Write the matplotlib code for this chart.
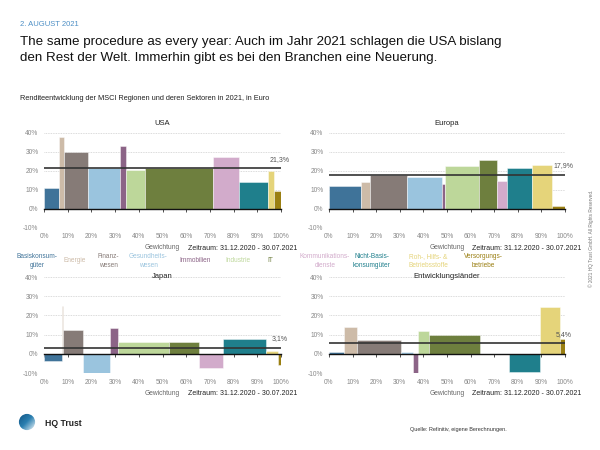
import numpy as np
import matplotlib
matplotlib.use("Agg")
import matplotlib.pyplot as plt
from matplotlib.patches import Circle

plt.rcParams['font.family'] = ['Liberation Sans', 'DejaVu Sans']

# sectors (legend order = bar order)
sectors = ['Basiskonsum-\ngüter', 'Energie', 'Finanz-\nwesen', 'Gesundheits-\nwesen', 'Immobilien',
           'Industrie', 'IT', 'Kommunikations-\ndienste', 'Nicht-Basis-\nkonsumgüter',
           'Roh-, Hilfs- &\nBetriebsstoffe', 'Versorgungs-\nbetriebe']
colors = ['#3f7399', '#cdbba8', '#867b77', '#9ac4de', '#8c6487', '#bdd79a',
          '#6e7f3e', '#d2abcb', '#1f7f8c', '#e5d47a', '#9a7f12']

regions = ['USA', 'Europa', 'Japan', 'Entwicklungsländer']

# index weight of each sector (%) and return 2021 (%)
weights_usa = [6.4, 2.0, 10.2, 13.6, 2.6, 7.9, 28.5, 11.1, 12.4, 2.3, 3.0]
returns_usa = [11.1, 37.5, 29.8, 21.5, 32.8, 20.3, 21.4, 27.1, 13.9, 20.1, 9.5]

weights_eu = [13.6, 3.8, 15.5, 14.8, 1.5, 14.4, 7.7, 4.1, 10.8, 8.4, 5.4]
returns_eu = [11.9, 14.2, 18.0, 16.7, 13.0, 22.5, 25.8, 14.7, 21.4, 23.0, 1.4]

weights_jp = [7.5, 0.7, 8.3, 11.4, 3.2, 21.7, 12.8, 9.8, 18.2, 5.3, 1.1]
returns_jp = [-3.5, 24.9, 12.5, -10.0, 13.2, 6.3, 6.1, -7.5, 7.8, 1.2, -5.9]

weights_em = [6.4, 5.3, 18.8, 5.0, 2.1, 4.8, 21.7, 12.2, 13.1, 8.3, 2.3]
returns_em = [0.7, 13.9, 7.3, 1.0, -10.3, 11.7, 9.6, -0.3, -9.7, 24.2, 7.5]

totals = [21.3, 17.9, 3.1, 5.4]

weights = [weights_usa, weights_eu, weights_jp, weights_em]
returns = [returns_usa, returns_eu, returns_jp, returns_em]

fig = plt.figure(figsize=(6, 4.5), dpi=100)
W, H = 600, 450

# axes boxes in pixels: left, right, top(40%), bottom(-10%)
boxes = [(44, 281, 132.7, 227.7), (329, 565, 132.7, 227.7),
         (44, 281, 277, 373), (329, 565, 277, 373)]
title_off = [9, 9, 0, 0]

for i in range(4):
    l, r, t, b = boxes[i]
    ax = fig.add_axes([l / W, 1 - b / H, (r - l) / W, (b - t) / H])
    w = np.array(weights[i])
    lefts = np.concatenate([[0], np.cumsum(w)[:-1]])
    ax.bar(lefts, returns[i], width=w, align='edge', color=colors,
           edgecolor=(1, 1, 1, 0.6), linewidth=0.5, zorder=2)
    ax.axhline(totals[i], color='#333333', lw=1.2, zorder=4)
    ax.annotate(f"{totals[i]:.1f}%".replace('.', ','), (99.5, totals[i]),
                xytext=(0, 6.5), textcoords='offset points', ha='center', va='center',
                fontsize=5, color='#555555', zorder=5)
    ax.set_xlim(0, 100)
    ax.set_ylim(-10, 40)
    ax.set_yticks(np.arange(-10, 41, 10))
    ax.set_yticklabels([f"{v}%" for v in range(-10, 41, 10)])
    ax.grid(axis='y', color='#cfcfcf', lw=0.6, ls=(0, (1, 1)), zorder=0)
    ax.set_axisbelow(True)
    for s in ['left', 'right', 'top']:
        ax.spines[s].set_visible(False)
    ax.spines['bottom'].set_position(('data', 0))
    ax.spines['bottom'].set_color('#111111')
    ax.spines['bottom'].set_linewidth(1.0)
    ax.spines['bottom'].set_zorder(3)
    ax.set_xticks(np.arange(0, 101, 10))
    ax.tick_params(axis='x', direction='out', length=2.2, width=0.6, color='#333333',
                   labelbottom=False)
    ax.tick_params(axis='y', length=0, pad=4, labelsize=4.8, labelcolor='#888888')
    sec = ax.secondary_xaxis('bottom')
    sec.set_xticks(np.arange(0, 101, 10))
    sec.set_xticklabels([f"{v}%" for v in range(0, 101, 10)])
    sec.tick_params(length=0, pad=4, labelsize=4.8, labelcolor='#888888')
    sec.spines['bottom'].set_visible(False)
    sec.set_xlabel('Gewichtung', fontsize=4.8, color='#666666', labelpad=3)
    fig.text((l + r) / 2 / W, 1 - (t - title_off[i]) / H, regions[i],
             ha='center', va='center', fontsize=5.5, color='#222222')
    fig.text((r + 16) / W, 1 - (b + 20.5) / H, 'Zeitraum: 31.12.2020 - 30.07.2021',
             ha='right', va='center', fontsize=5, color='#222222')

# legend row
legend_x = [37, 75, 108, 148, 195, 238, 270, 325, 372, 428, 483]
for name, c, x in zip(sectors, colors, legend_x):
    fig.text(x / W, 1 - 261 / H, name, ha='center', va='center', fontsize=4.7,
             color=c, linespacing=1.5, multialignment='center')

# header
fig.text(20 / W, 1 - 24 / H, '2. AUGUST 2021', fontsize=5.5, color='#4d8fc5', va='center')
fig.text(20 / W, 1 - 50 / H,
         'The same procedure as every year: Auch im Jahr 2021 schlagen die USA bislang\n'
         'den Rest der Welt. Immerhin gibt es bei den Branchen eine Neuerung.',
         fontsize=9.6, color='#111111', va='center', linespacing=1.45)
fig.text(20 / W, 1 - 98 / H,
         'Renditeentwicklung der MSCI Regionen und deren Sektoren in 2021, in Euro',
         fontsize=5.3, color='#222222', va='center')

# copyright
fig.text(591 / W, 1 - 238 / H, '© 2021 HQ Trust GmbH. All Rights Reserved.',
         rotation=90, fontsize=3.4, color='#777777', ha='center', va='center')

# footer
logo = fig.add_axes([18 / W, 1 - 434 / H, 18 / W, 24 / H])
grad = np.linspace(0, 1, 64)
img = np.add.outer(grad, grad) / 2
logo.imshow(img, cmap=matplotlib.colors.LinearSegmentedColormap.from_list(
    'hq', ['#0f4f7e', '#2a7fb0', '#ffffff']), extent=(0, 1, 0, 1), origin='upper')
clip = Circle((0.5, 0.5), 0.45, transform=logo.transData)
logo.images[0].set_clip_path(clip)
logo.set_xlim(0, 1)
logo.set_ylim(0, 1)
logo.set_aspect('equal')
logo.axis('off')
fig.text(45 / W, 1 - 424 / H, 'HQ Trust', fontsize=6.2, fontweight='bold',
         color='#222222', va='center')
fig.text(507 / W, 1 - 429 / H, 'Quelle: Refinitiv, eigene Berechnungen.',
         fontsize=4, color='#333333', ha='right', va='center')

fig.savefig('out.png', dpi=100)
